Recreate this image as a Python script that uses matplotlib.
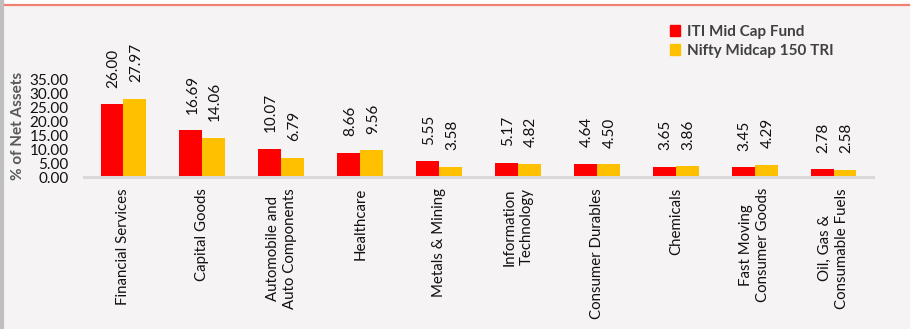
import matplotlib.pyplot as plt
from matplotlib.patches import Rectangle, Patch
from matplotlib.lines import Line2D
import numpy as np

sectors = ["Financial Services", "Capital Goods", "Automobile and\nAuto Components",
           "Healthcare", "Metals & Mining", "Information\nTechnology",
           "Consumer Durables", "Chemicals", "Fast Moving\nConsumer Goods",
           "Oil, Gas &\nConsumable Fuels"]
fund = [26.00, 16.69, 10.07, 8.66, 5.55, 5.17, 4.64, 3.65, 3.45, 2.78]
index = [27.97, 14.06, 6.79, 9.56, 3.58, 4.82, 4.50, 3.86, 4.29, 2.58]
yticks = [0, 5, 10, 15, 20, 25, 30, 35]

red = "#ff0000"
yellow = "#ffc000"
bg = "#f5f3f4"

plt.rcParams["font.family"] = ["Lato", "DejaVu Sans"]

W, H = 915, 329
fig = plt.figure(figsize=(W / 100, H / 100), dpi=100, facecolor="white")

# page background, left grey strip and the top rule
fig.patches.append(Rectangle((5 / W, 0), (909 - 5) / W, 1 - 5 / H,
                             transform=fig.transFigure, color=bg, zorder=-10))
fig.patches.append(Rectangle((0, 0), 3 / W, 1, transform=fig.transFigure,
                             color="#bfbfbf", zorder=-10))
fig.lines.append(Line2D([5 / W, 909 / W], [1 - 4.8 / H, 1 - 4.8 / H],
                        transform=fig.transFigure, color="#f08070", lw=1.6))

ax = fig.add_axes([84 / W, 1 - 177 / H, (873 - 84) / W, (177 - 79) / H])
ax.set_facecolor("none")

x = np.arange(len(sectors))
w = 0.29
b1 = ax.bar(x - w / 2, fund, w, color=red, label="ITI Mid Cap Fund")
b2 = ax.bar(x + w / 2, index, w, color=yellow, label="Nifty Midcap 150 TRI")

for bars, vals in ((b1, fund), (b2, index)):
    for r, v in zip(bars, vals):
        ax.annotate(f"{v:.2f}", (r.get_x() + r.get_width() / 2, v),
                    xytext=(1, 12), textcoords="offset points",
                    rotation=90, ha="center", va="bottom",
                    fontsize=11, color="#111111")

ax.set_xlim(-0.5, len(sectors) - 0.5)
ax.set_ylim(0, 35)
ax.set_yticks(yticks)
ax.set_yticklabels([f"{t:.2f}" for t in yticks])
ax.set_xticks(x)
ax.set_xticklabels(sectors, rotation=90, ha="center", va="top",
                   multialignment="center", fontsize=10.8, color="#111111",
                   linespacing=1.3)
ax.tick_params(axis="x", length=0, pad=8)
ax.tick_params(axis="y", length=0, pad=11, labelsize=11, labelcolor="#111111")

for s in ("top", "right", "left"):
    ax.spines[s].set_visible(False)
ax.spines["bottom"].set_color("#d9d9d9")
ax.spines["bottom"].set_linewidth(2.2)

fig.text(18 / W, 1 - 126 / H, "% of Net Assets", rotation=90, ha="center",
         va="center", fontsize=11, fontweight="bold", color="#595959")

handles = [Patch(color=red), Patch(color=yellow)]
fig.legend(handles, ["ITI Mid Cap Fund", "Nifty Midcap 150 TRI"],
           loc="upper left", bbox_to_anchor=(656 / W, 1 - 11 / H),
           frameon=False, handlelength=0.7, handleheight=0.7,
           handletextpad=0.45, labelspacing=0.35,
           prop={"size": 11, "weight": "bold"}, labelcolor="#404040")

fig.savefig("out.png", dpi=100, facecolor="white")
